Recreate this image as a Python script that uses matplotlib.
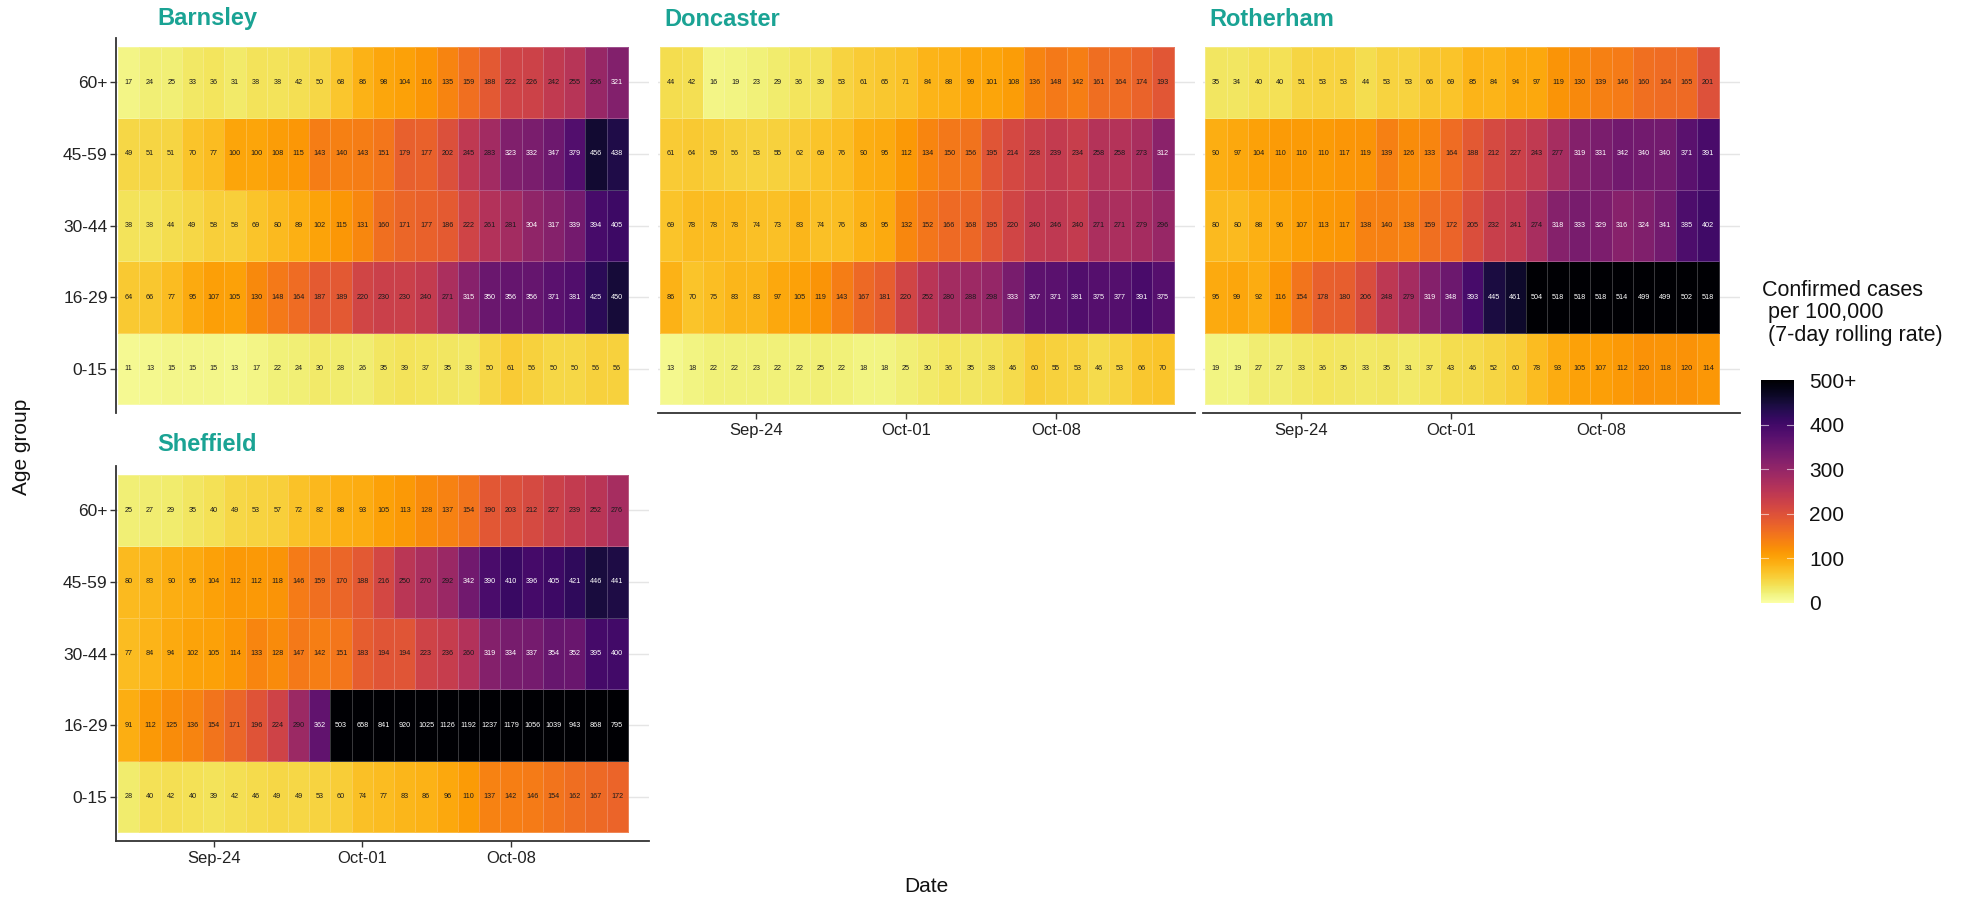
import numpy as np
import pandas as pd
import matplotlib
matplotlib.use("Agg")
import matplotlib.pyplot as plt
from matplotlib.colors import Normalize

plt.rcParams['font.family'] = ['Liberation Sans', 'DejaVu Sans']

# ---------------- data ----------------
dates = pd.date_range('2020-09-20', periods=24, freq='D')
age_groups = ['0-15', '16-29', '30-44', '45-59', '60+']
tick_dates = ['2020-09-24', '2020-10-01', '2020-10-08']

barnsley_60 = [17, 24, 25, 33, 36, 31, 38, 38, 42, 50, 68, 86, 98, 104, 116, 135, 159, 188, 222, 226, 242, 255, 296, 321]
barnsley_45 = [49, 51, 51, 70, 77, 100, 100, 108, 115, 143, 140, 143, 151, 179, 177, 202, 245, 283, 323, 332, 347, 379, 456, 438]
barnsley_30 = [38, 38, 44, 49, 58, 58, 69, 80, 89, 102, 115, 131, 160, 171, 177, 186, 222, 261, 281, 304, 317, 339, 394, 405]
barnsley_16 = [64, 66, 77, 95, 107, 105, 130, 148, 164, 187, 189, 220, 230, 230, 240, 271, 315, 350, 356, 356, 371, 381, 425, 450]
barnsley_0 = [11, 13, 15, 15, 15, 13, 17, 22, 24, 30, 28, 26, 35, 39, 37, 35, 33, 50, 61, 56, 50, 50, 56, 56]

doncaster_60 = [44, 42, 16, 19, 23, 29, 36, 39, 53, 61, 65, 71, 84, 88, 99, 101, 108, 136, 148, 142, 161, 164, 174, 193]
doncaster_45 = [61, 64, 59, 56, 53, 55, 62, 69, 76, 90, 95, 112, 134, 150, 156, 195, 214, 228, 239, 234, 258, 258, 273, 312]
doncaster_30 = [69, 78, 78, 78, 74, 73, 83, 74, 76, 86, 95, 132, 152, 166, 168, 195, 220, 240, 246, 240, 271, 271, 279, 296]
doncaster_16 = [86, 70, 75, 83, 83, 97, 105, 119, 143, 167, 181, 220, 252, 280, 288, 298, 333, 367, 371, 381, 375, 377, 391, 375]
doncaster_0 = [13, 18, 22, 22, 23, 22, 22, 25, 22, 18, 18, 25, 30, 36, 35, 38, 46, 60, 55, 53, 46, 53, 66, 70]

rotherham_60 = [35, 34, 40, 40, 51, 53, 53, 44, 53, 53, 66, 69, 85, 84, 94, 97, 119, 130, 139, 146, 160, 164, 165, 201]
rotherham_45 = [90, 97, 104, 110, 110, 110, 117, 119, 139, 126, 133, 164, 188, 212, 227, 243, 277, 319, 331, 342, 340, 340, 371, 391]
rotherham_30 = [80, 80, 88, 96, 107, 113, 117, 138, 140, 138, 159, 172, 205, 232, 241, 274, 318, 333, 329, 316, 324, 341, 385, 402]
rotherham_16 = [95, 99, 92, 116, 154, 178, 180, 206, 248, 279, 319, 348, 393, 445, 461, 504, 518, 518, 518, 514, 499, 499, 502, 518]
rotherham_0 = [19, 19, 27, 27, 33, 36, 35, 33, 35, 31, 37, 43, 46, 52, 60, 78, 93, 105, 107, 112, 120, 118, 120, 114]

sheffield_60 = [25, 27, 29, 35, 40, 49, 53, 57, 72, 82, 88, 93, 105, 113, 128, 137, 154, 190, 203, 212, 227, 239, 252, 276]
sheffield_45 = [80, 83, 90, 95, 104, 112, 112, 118, 146, 159, 170, 188, 216, 250, 270, 292, 342, 390, 410, 396, 405, 421, 446, 441]
sheffield_30 = [77, 84, 94, 102, 105, 114, 133, 128, 147, 142, 151, 183, 194, 194, 223, 236, 260, 319, 334, 337, 354, 352, 395, 400]
sheffield_16 = [91, 112, 125, 136, 154, 171, 196, 224, 290, 362, 503, 658, 841, 920, 1025, 1126, 1192, 1237, 1179, 1056, 1039, 943, 868, 795]
sheffield_0 = [28, 40, 42, 40, 39, 42, 46, 49, 49, 53, 60, 74, 77, 83, 86, 96, 110, 137, 142, 146, 154, 162, 167, 172]

areas = {
    'Barnsley': [barnsley_0, barnsley_16, barnsley_30, barnsley_45, barnsley_60],
    'Doncaster': [doncaster_0, doncaster_16, doncaster_30, doncaster_45, doncaster_60],
    'Rotherham': [rotherham_0, rotherham_16, rotherham_30, rotherham_45, rotherham_60],
    'Sheffield': [sheffield_0, sheffield_16, sheffield_30, sheffield_45, sheffield_60],
}

legend_ticks = [0, 100, 200, 300, 400, 500]
legend_labels = ['0', '100', '200', '300', '400', '500+']

# ---------------- layout ----------------
W, H = 1962, 900
fig = plt.figure(figsize=(W / 100, H / 100), dpi=100)


def rect(l, t, r, b):
    return [l / W, 1 - b / H, (r - l) / W, (b - t) / H]


# (left, top, right, bottom, title_x, title_y, show_x_axis, show_y_axis)
panels = {
    'Barnsley': (116, 38, 649, 413, 157, 19, False, True),
    'Doncaster': (658, 38, 1195, 413, 664, 19, True, False),
    'Rotherham': (1203, 38, 1740, 413, 1209, 19, True, False),
    'Sheffield': (116, 466, 649, 841, 157, 444, True, True),
}

cmap = plt.get_cmap('inferno_r')
norm = Normalize(vmin=0, vmax=500, clip=True)
title_color = '#1AA394'
axis_color = '#333333'
tick_label_color = '#222222'

tick_idx = [list(dates).index(pd.Timestamp(d)) for d in tick_dates]
tick_lab = [pd.Timestamp(d).strftime('%b-%d') for d in tick_dates]

mesh = None
for name, rows in areas.items():
    l, t, r, b, tx, ty, showx, showy = panels[name]
    ax = fig.add_axes(rect(l, t, r, b))
    Z = np.array(rows, dtype=float)
    nx = Z.shape[1]
    xe = np.arange(nx + 1) - 0.5
    ye = np.arange(len(age_groups) + 1) - 0.5
    for yi in range(len(age_groups)):
        ax.axhline(yi, color='#E5E5E5', lw=1.0, zorder=0)
    mesh = ax.pcolormesh(xe, ye, np.clip(Z, 0, 500), cmap=cmap, norm=norm,
                         edgecolors=(1, 1, 1, 0.22), linewidth=0.6, zorder=1)
    for yi in range(Z.shape[0]):
        for xi in range(nx):
            v = Z[yi, xi]
            ax.text(xi, yi, f'{int(v)}', ha='center', va='center',
                    fontsize=5.2, color='white' if v > 300 else '#1a1a1a', zorder=3)
    ax.set_xlim(-0.6, 24.5)
    ax.set_ylim(-0.62, 4.62)
    for s in ['top', 'right']:
        ax.spines[s].set_visible(False)
    ax.spines['bottom'].set_visible(showx)
    ax.spines['left'].set_visible(showy)
    ax.spines['bottom'].set_color(axis_color)
    ax.spines['left'].set_color(axis_color)
    ax.spines['bottom'].set_linewidth(1.3)
    ax.spines['left'].set_linewidth(1.3)
    if showx:
        ax.set_xticks(tick_idx)
        ax.set_xticklabels(tick_lab, fontsize=12, color=tick_label_color)
        ax.tick_params(axis='x', length=4, width=1, color=axis_color, pad=3)
    else:
        ax.set_xticks([])
    if showy:
        ax.set_yticks(range(len(age_groups)))
        ax.set_yticklabels(age_groups, fontsize=12.5, color=tick_label_color)
        ax.tick_params(axis='y', length=4, width=1, color=axis_color, pad=2)
    else:
        ax.set_yticks([])
    fig.text(tx / W, 1 - ty / H, name, ha='left', va='center', fontsize=17,
             fontweight='bold', color=title_color)

# axis titles
fig.text(22 / W, 1 - 447 / H, 'Age group', rotation=90, ha='center', va='center',
         fontsize=15, color='#111111')
fig.text(926 / W, 1 - 886 / H, 'Date', ha='center', va='center', fontsize=15,
         color='#111111')

# legend
cax = fig.add_axes(rect(1761, 380, 1794, 603))
cb = fig.colorbar(mesh, cax=cax, ticks=legend_ticks)
cb.set_ticklabels(legend_labels)
cb.outline.set_visible(False)
cax.tick_params(length=0, labelsize=15, pad=11, labelcolor='#111111')
for v in legend_ticks[1:-1]:
    cax.plot([0, 0.2], [v, v], color='white', lw=0.8, alpha=0.6)
    cax.plot([0.8, 1.0], [v, v], color='white', lw=0.8, alpha=0.6)
cax.set_xlim(0, 1)

legend_title = ['Confirmed cases', ' per 100,000', ' (7-day rolling rate)']
for i, line in enumerate(legend_title):
    fig.text(1762 / W, 1 - (290 + 22.5 * i) / H, line, ha='left', va='center',
             fontsize=15.5, color='#111111')

fig.savefig('out.png', dpi=100)
